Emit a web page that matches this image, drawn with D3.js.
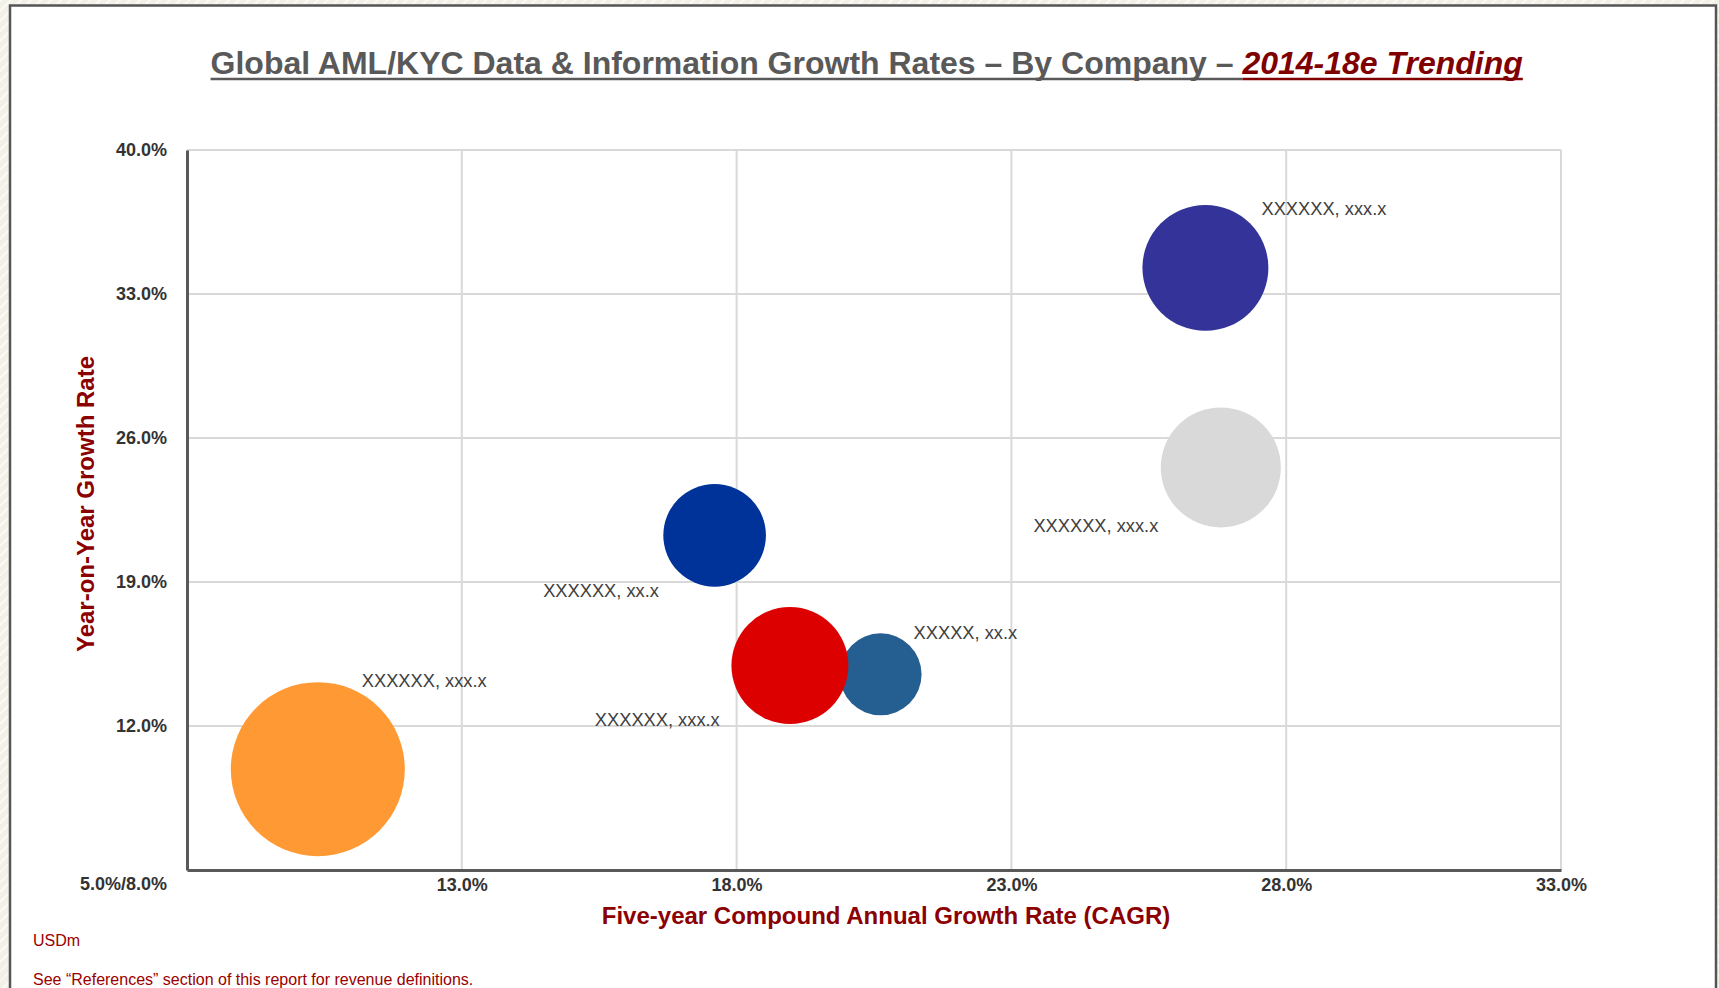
<!DOCTYPE html>
<html>
<head>
<meta charset="utf-8">
<script src="https://cdn.jsdelivr.net/npm/d3@7"></script>
<style>
  body {
    margin: 0;
    background-color: #f2f0e7;
    background-image: repeating-linear-gradient(135deg, rgba(255,255,255,0.6) 0 2px, transparent 2px 7px);
    font-family: "Liberation Sans", Arial, sans-serif;
  }
  #chart svg { display: block; }
</style>
</head>
<body>
<div id="chart"></div>
<script>
// bubbles, drawn in this order (red sits on top of the steel blue one)
const labels = ["XXXXXX, xxx.x", "XXXXXX, xxx.x", "XXXXXX, xxx.x", "XXXXXX, xx.x", "XXXXX, xx.x", "XXXXXX, xxx.x"];
const cagr = [10.38, 26.53, 26.81, 17.60, 20.62, 18.97];   // five-year CAGR, %
const yoy = [9.90, 34.27, 24.57, 21.27, 14.51, 14.94];     // year-on-year growth, %
const revenue = [250, 131, 119, 87, 55.5, 113];            // USDm, bubble size
const colors = ["#ff9933", "#333399", "#d9d9d9", "#003399", "#255e91", "#dd0000"];
// where each data label sits, in axis units
const labelCagr = [11.18, 27.55, 23.40, 14.48, 21.22, 15.42];
const labelYoy = [14.15, 37.09, 21.69, 18.53, 16.51, 12.29];

const xTicks = [13, 18, 23, 28, 33];
const yTicks = [12, 19, 26, 33, 40];
const originLabel = "5.0%/8.0%";

const W = 1719, H = 988;

const svg = d3.select("#chart").append("svg")
  .attr("width", W)
  .attr("height", H);

// white panel
svg.append("rect")
  .attr("x", 10).attr("y", 5.5)
  .attr("width", 1706).attr("height", 1000)
  .attr("fill", "#fff")
  .attr("stroke", "#555")
  .attr("stroke-width", 2.5);

const x = d3.scaleLinear().domain([8, 33]).range([187, 1561]);
const y = d3.scaleLinear().domain([5, 40]).range([870, 150]);
const r = d3.scaleSqrt().domain([0, 250]).range([0, 87]);

// title
const part1 = "Global AML/KYC Data & Information Growth Rates \u2013 By Company \u2013 ";
const part2 = "2014-18e Trending";
const title = svg.append("text")
  .attr("x", 866.7)
  .attr("y", 74)
  .attr("text-anchor", "middle")
  .style("font-size", "32px")
  .style("font-weight", "bold");
title.append("tspan").attr("fill", "#595959").text(part1);
title.append("tspan").attr("fill", "#800000").style("font-style", "italic").text(part2);

const tNode = title.node();
const total = tNode.getComputedTextLength();
const w1 = tNode.getSubStringLength(0, part1.length);
const tx0 = 866.7 - total / 2;
svg.append("line")
  .attr("x1", tx0).attr("x2", tx0 + w1)
  .attr("y1", 79).attr("y2", 79)
  .attr("stroke", "#595959").attr("stroke-width", 2.5);
svg.append("line")
  .attr("x1", tx0 + w1).attr("x2", tx0 + total)
  .attr("y1", 79).attr("y2", 79)
  .attr("stroke", "#800000").attr("stroke-width", 2.5);

// grid
svg.append("g")
  .selectAll("line")
  .data(xTicks)
  .join("line")
  .attr("x1", d => x(d)).attr("x2", d => x(d))
  .attr("y1", y(40)).attr("y2", y(5))
  .attr("stroke", "#d9d9d9")
  .attr("stroke-width", 2);

svg.append("g")
  .selectAll("line")
  .data(yTicks)
  .join("line")
  .attr("x1", x(8)).attr("x2", x(33))
  .attr("y1", d => y(d)).attr("y2", d => y(d))
  .attr("stroke", "#d9d9d9")
  .attr("stroke-width", 2);

// axes
const fmt = d => d.toFixed(1) + "%";

const xAxis = svg.append("g")
  .attr("transform", `translate(0,${y(5)})`)
  .call(d3.axisBottom(x).tickValues(xTicks).tickSize(0).tickPadding(8).tickFormat(fmt));

const yAxis = svg.append("g")
  .attr("transform", `translate(${x(8)},0)`)
  .call(d3.axisLeft(y).tickValues(yTicks).tickSize(0).tickPadding(20).tickFormat(fmt));

[xAxis, yAxis].forEach(a => {
  a.select(".domain")
    .attr("stroke", "#595959")
    .attr("stroke-width", 3);
  a.selectAll("text")
    .attr("fill", "#333")
    .style("font-family", "'Liberation Sans', Arial, sans-serif")
    .style("font-size", "18px")
    .style("font-weight", "bold");
});

svg.append("text")
  .attr("x", 167)
  .attr("y", 884)
  .attr("dy", "0.35em")
  .attr("text-anchor", "end")
  .attr("fill", "#333")
  .style("font-size", "18px")
  .style("font-weight", "bold")
  .text(originLabel);

// bubbles
const bubbles = cagr.map((c, i) => ({
  cagr: c, yoy: yoy[i], revenue: revenue[i], color: colors[i],
  label: labels[i], lx: labelCagr[i], ly: labelYoy[i]
}));

svg.append("g")
  .selectAll("circle")
  .data(bubbles)
  .join("circle")
  .attr("cx", d => x(d.cagr))
  .attr("cy", d => y(d.yoy))
  .attr("r", d => r(d.revenue))
  .attr("fill", d => d.color);

svg.append("g")
  .selectAll("text")
  .data(bubbles)
  .join("text")
  .attr("x", d => x(d.lx))
  .attr("y", d => y(d.ly))
  .attr("dy", "0.3em")
  .attr("fill", "#404040")
  .style("font-size", "18.3px")
  .text(d => d.label);

// axis titles
svg.append("text")
  .attr("x", 886)
  .attr("y", 916)
  .attr("dy", "0.35em")
  .attr("text-anchor", "middle")
  .attr("fill", "#8b0000")
  .style("font-size", "24px")
  .style("font-weight", "bold")
  .text("Five-year Compound Annual Growth Rate (CAGR)");

svg.append("text")
  .attr("transform", "translate(86,504) rotate(-90)")
  .attr("dy", "0.35em")
  .attr("text-anchor", "middle")
  .attr("fill", "#8b0000")
  .style("font-size", "24px")
  .style("font-weight", "bold")
  .text("Year-on-Year Growth Rate");

// notes
svg.append("text")
  .attr("x", 33).attr("y", 940)
  .attr("dy", "0.35em")
  .attr("fill", "#990000")
  .style("font-size", "16px")
  .text("USDm");

svg.append("text")
  .attr("x", 33).attr("y", 979)
  .attr("dy", "0.35em")
  .attr("fill", "#990000")
  .style("font-size", "16px")
  .text("See \u201cReferences\u201d section of this report for revenue definitions.");
</script>
</body>
</html>
